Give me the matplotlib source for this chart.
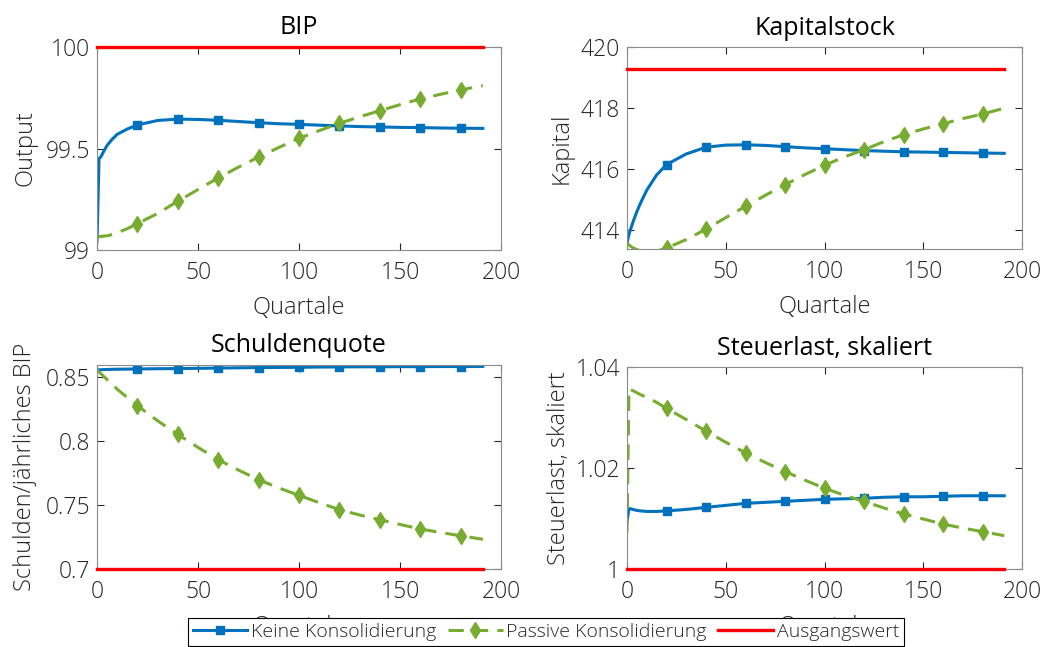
import matplotlib
matplotlib.use("Agg")
import matplotlib.pyplot as plt

plt.rcParams['font.family'] = ['Open Sans', 'DejaVu Sans']

# Zeitachse (Quartale)
quartale = [0, 1, 2, 3, 5, 7, 10, 15, 20, 30, 40, 50, 60, 70, 80, 90, 100,
            110, 120, 130, 140, 150, 160, 170, 180, 191]

bip_keine = [99.04, 99.45, 99.46, 99.48, 99.515, 99.54, 99.57, 99.596, 99.616, 99.638,
             99.645, 99.643, 99.639, 99.633, 99.627, 99.622, 99.619, 99.615, 99.611,
             99.608, 99.606, 99.604, 99.603, 99.601, 99.600, 99.599]
bip_passiv = [99.065, 99.066, 99.067, 99.068, 99.07, 99.075, 99.085, 99.105, 99.13, 99.18,
              99.24, 99.298, 99.355, 99.408, 99.458, 99.505, 99.55, 99.588, 99.624,
              99.656, 99.686, 99.716, 99.744, 99.767, 99.788, 99.81]

kap_keine = [413.56, 413.85, 414.05, 414.25, 414.6, 414.9, 415.3, 415.8, 416.14, 416.49,
             416.71, 416.78, 416.79, 416.77, 416.73, 416.69, 416.66, 416.63, 416.60,
             416.58, 416.56, 416.55, 416.54, 416.53, 416.52, 416.51]
kap_passiv = [413.56, 413.5, 413.45, 413.41, 413.35, 413.31, 413.28, 413.3, 413.4, 413.68,
              414.02, 414.4, 414.77, 415.13, 415.48, 415.81, 416.12, 416.39, 416.63,
              416.89, 417.12, 417.31, 417.48, 417.65, 417.80, 417.99]

schuld_keine = [0.8555, 0.8556, 0.8557, 0.8558, 0.8559, 0.856, 0.8561, 0.8562, 0.8563,
                0.8565, 0.8566, 0.8568, 0.857, 0.8572, 0.8574, 0.8575, 0.8576, 0.8578,
                0.8579, 0.858, 0.858, 0.8581, 0.8581, 0.8582, 0.8582, 0.8583]
schuld_passiv = [0.8555, 0.854, 0.8525, 0.851, 0.848, 0.845, 0.8405, 0.834, 0.8276, 0.8158,
                 0.8052, 0.795, 0.7854, 0.7773, 0.7698, 0.7633, 0.7576, 0.7518, 0.7464,
                 0.7422, 0.7385, 0.7348, 0.7313, 0.7285, 0.7260, 0.7232]

steuer_keine = [1.0093, 1.0120, 1.0119, 1.0118, 1.0116, 1.0115, 1.0114, 1.0114, 1.0115,
                1.0118, 1.0122, 1.0126, 1.0130, 1.0132, 1.0134, 1.0136, 1.0138, 1.0139,
                1.0140, 1.0142, 1.0143, 1.0143, 1.0144, 1.0145, 1.0145, 1.0145]
steuer_passiv = [1.0071, 1.0357, 1.0355, 1.0353, 1.0349, 1.0345, 1.034, 1.033, 1.0318,
                 1.0296, 1.0273, 1.0251, 1.023, 1.0211, 1.0193, 1.0176, 1.016, 1.0146,
                 1.0134, 1.0121, 1.0109, 1.0099, 1.0089, 1.0081, 1.0074, 1.0066]

ausgangswerte = [100, 419.28, 0.7, 1.0]

titel = ["BIP", "Kapitalstock", "Schuldenquote", "Steuerlast, skaliert"]
ylabels = ["Output", "Kapital", "Schulden/jährliches BIP", "Steuerlast, skaliert"]
ylims = [(99, 100), (413.37, 420), (0.7, 0.8594), (1.0, 1.04)]
yticks = [[99, 99.5, 100], [414, 416, 418, 420], [0.7, 0.75, 0.8, 0.85], [1, 1.02, 1.04]]
yticklabels = [["99", "99.5", "100"], ["414", "416", "418", "420"],
               ["0.7", "0.75", "0.8", "0.85"], ["1", "1.02", "1.04"]]

serien_keine = [bip_keine, kap_keine, schuld_keine, steuer_keine]
serien_passiv = [bip_passiv, kap_passiv, schuld_passiv, steuer_passiv]

blau = '#0072BD'
gruen = '#77AC30'
rot = '#FF0000'
grau = '#262626'

W, H = 1055, 647
fig = plt.figure(figsize=(W / 100, H / 100), dpi=100)
boxen = [(97, 47, 501, 250), (627, 47, 1022, 249), (97, 365, 501, 569), (627, 367, 1022, 569)]
ylabelpads = [6, 5, 6, 3]

marker_idx = [i for i, q in enumerate(quartale) if q > 0 and q % 20 == 0]

handles = None
for k in range(4):
    x0, y0, x1, y1 = boxen[k]
    ax = fig.add_axes([x0 / W, (H - y1) / H, (x1 - x0) / W, (y1 - y0) / H])
    h1, = ax.plot(quartale, serien_keine[k], color=blau, lw=2.2, marker='s', ms=6,
                  markevery=marker_idx, label='Keine Konsolidierung')
    h2, = ax.plot(quartale, serien_passiv[k], color=gruen, lw=2.2, ls=(0, (5, 3)),
                  marker='d', ms=8, markevery=marker_idx, label='Passive Konsolidierung')
    h3, = ax.plot([quartale[0], quartale[-1]], [ausgangswerte[k], ausgangswerte[k]],
                  color=rot, lw=2.4, clip_on=False, label='Ausgangswert', zorder=3)
    handles = [h1, h2, h3]
    ax.set_xlim(0, 200)
    ax.set_ylim(*ylims[k])
    ax.set_xticks([0, 50, 100, 150, 200])
    ax.set_yticks(yticks[k])
    ax.set_yticklabels(yticklabels[k])
    ax.tick_params(direction='in', top=True, right=True, length=5, width=0.8,
                   labelsize=16.5, colors=grau, pad=5)
    ax.tick_params(axis='x', pad=8)
    for t in ax.get_xticklabels() + ax.get_yticklabels():
        t.set_fontweight('light')
    for s in ax.spines.values():
        s.set_color('#8c8c8c')
        s.set_linewidth(0.8)
    ax.set_title(titel[k], fontsize=18, color='black', pad=9)
    ax.set_ylabel(ylabels[k], fontsize=17, color=grau, fontweight='light',
                  labelpad=ylabelpads[k])
    ax.set_xlabel("Quartale", fontsize=17, color=grau, fontweight='light', labelpad=8)

leg = fig.legend(handles=handles, ncol=3, loc='upper left',
                 bbox_to_anchor=(188 / W, (H - 618) / H), fontsize=14,
                 frameon=True, fancybox=False, edgecolor='black', framealpha=1,
                 handlelength=2.8, columnspacing=0.6, handletextpad=0.2,
                 borderpad=0.25, borderaxespad=0)
leg.get_frame().set_linewidth(0.8)
for t in leg.get_texts():
    t.set_color(grau)
    t.set_fontweight('light')

fig.savefig("out.png", dpi=100)
